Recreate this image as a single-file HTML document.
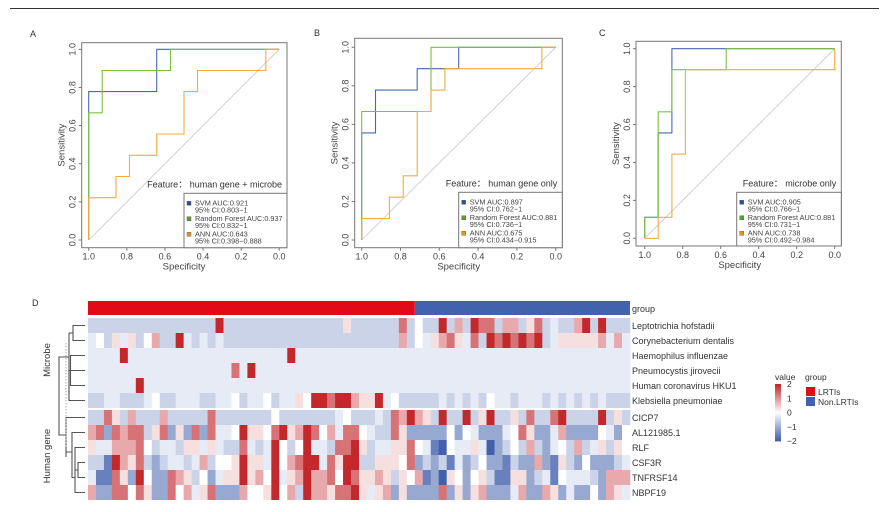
<!DOCTYPE html>
<html><head><meta charset="utf-8"><style>
html,body{margin:0;padding:0;background:#fff}
svg{display:block;font-family:"Liberation Sans","Noto Sans CJK SC",sans-serif}
</style></head><body>
<svg id="fig" width="889" height="512" viewBox="0 0 889 512">
<line x1="10" y1="8.5" x2="879" y2="8.5" stroke="#333" stroke-width="1"/>
<text x="30" y="37" font-size="9" fill="#333">A</text>
<text x="314" y="36" font-size="9" fill="#333">B</text>
<text x="599" y="36" font-size="9" fill="#333">C</text>
<text x="32" y="306" font-size="9" fill="#333">D</text>
<g id="rocs"></g>
<g id="heat"></g>
</svg>
<script>
// ---------- ROC data ----------
const rocTitles = ["human gene + microbe","human gene only","microbe only"];
const seriesNames = ["SVM","Random Forest","ANN"];
const aucLabels = [["0.921","0.937","0.643"],["0.897","0.881","0.675"],["0.905","0.881","0.738"]];
const ciLabels = [["0.803−1","0.832−1","0.398−0.888"],["0.762−1","0.736−1","0.434−0.915"],["0.766−1","0.731−1","0.492−0.984"]];
const tickValues = [1.0,0.8,0.6,0.4,0.2,0.0];
const tickLabels = ["1.0","0.8","0.6","0.4","0.2","0.0"];
const specA_svm=[1,1,0.643,0.643,0], sensA_svm=[0,0.778,0.778,1,1];
const specA_rf=[1,1,0.929,0.929,0.571,0.571,0], sensA_rf=[0,0.667,0.667,0.889,0.889,1,1];
const specA_ann=[1,1,0.857,0.857,0.786,0.786,0.643,0.643,0.5,0.5,0.429,0.429,0.071,0.071,0], sensA_ann=[0,0.222,0.222,0.333,0.333,0.444,0.444,0.556,0.556,0.778,0.778,0.889,0.889,1,1];
const specB_svm=[1,1,0.929,0.929,0.714,0.714,0.5,0.5,0], sensB_svm=[0,0.556,0.556,0.778,0.778,0.889,0.889,1,1];
const specB_rf=[1,1,0.643,0.643,0], sensB_rf=[0,0.667,0.667,1,1];
const specB_ann=[1,1,0.857,0.857,0.786,0.786,0.714,0.714,0.643,0.643,0.571,0.571,0.071,0.071,0], sensB_ann=[0,0.111,0.111,0.222,0.222,0.333,0.333,0.667,0.667,0.778,0.778,0.889,0.889,1,1];
const specC_svm=[1,1,0.929,0.929,0.857,0.857,0], sensC_svm=[0,0.111,0.111,0.556,0.556,1,1];
const specC_rf=[1,1,0.929,0.929,0.857,0.857,0.571,0.571,0], sensC_rf=[0,0.111,0.111,0.667,0.667,0.889,0.889,1,1];
const specC_ann=[1,0.929,0.929,0.857,0.857,0.786,0.786,0,0], sensC_ann=[0,0,0.111,0.111,0.444,0.444,0.889,0.889,1];

// ---------- Heatmap data ----------
const rowNames=["Leptotrichia hofstadii","Corynebacterium dentalis","Haemophilus influenzae","Pneumocystis jirovecii","Human coronavirus HKU1","Klebsiella pneumoniae","CICP7","AL121985.1","RLF","CSF3R","TNFRSF14","NBPF19"];
const groupCounts=[41,27];
const groupNames=["LRTIs","Non.LRTIs"];
const levelValues=[-2,-1.6,-1.1,-0.55,-0.25,0,0.3,0.8,1.3,2];
const heatRows=[
"3333333333333333"+"9"+"333333333333333"+"6"+"333333"+"8"+"3533937"+"398837736834337939333",
"45364635733943434"+"3333333333333333333333"+"73546786483989898934666667474",
"44449444444444444444444449",
"444444444444444444849",
"4444449",
"3344333453344433445344534465"+"99899766945"+"33333434343544344434343434333",
"33863"+"73337"+"33333"+"83333"+"33353"+"33333"+"34533"+"3438"+"79763"+"93393"+"69336"+"38338"+"93333"+"9363",
"78287"+"88368"+"26282"+"84459"+"66589"+"67985"+"74885"+"4338"+"62222"+"25254"+"22245"+"86224"+"72222"+"5425",
"64477"+"78534"+"43664"+"64338"+"43495"+"35944"+"38896"+"3446"+"68541"+"05446"+"40235"+"37324"+"53734"+"6365",
"33197"+"68323"+"44347"+"35569"+"66495"+"78994"+"86993"+"3666"+"58232"+"31423"+"52213"+"22721"+"63252"+"2234",
"41186"+"29522"+"87635"+"24669"+"67594"+"67977"+"85986"+"6763"+"65712"+"06525"+"63116"+"62341"+"54443"+"2777",
"72288"+"58622"+"85746"+"82227"+"55695"+"73977"+"68896"+"4672"+"62222"+"82626"+"72224"+"72276"+"24225"+"2764"
];
const legendTicks=[2,1,0,-1,-2];
const legendTickLabels=["2","1","0","−1","−2"];

const NS="http://www.w3.org/2000/svg";
function mk(tag,attrs,parent){const e=document.createElementNS(NS,tag);for(const k in attrs)e.setAttribute(k,attrs[k]);parent.appendChild(e);return e;}

const colors=["#4868b4","#7cc043","#f6ab3e"];
const swatch=["#2e4f9c","#5c9f2e","#e8921f"];
const panels=[
 {L:81.7,R:287,T:42.7,B:247.7,x1:88.7,x0:279.3,y1:49.3,y0:240,lx:184,ly:193.3,sp:[specA_svm,specA_rf,specA_ann],se:[sensA_svm,sensA_rf,sensA_ann]},
 {L:354.7,R:562.3,T:38.3,B:247.7,x1:361.7,x0:555.7,y1:47.3,y0:240,lx:458.7,ly:192.3,sp:[specB_svm,specB_rf,specB_ann],se:[sensB_svm,sensB_rf,sensB_ann]},
 {L:636,R:841.3,T:41.3,B:246,x1:644.7,x0:834.7,y1:48.7,y0:238.3,lx:736.7,ly:192.3,sp:[specC_svm,specC_rf,specC_ann],se:[sensC_svm,sensC_rf,sensC_ann]}
];
const rocs=document.getElementById('rocs');
const pnames=['a','b','c'];
panels.forEach((p,pi)=>{
  const g=mk('g',{},rocs);
  
  
  const xs=v=>p.x0+(p.x1-p.x0)*v, ys=v=>p.y0+(p.y1-p.y0)*v;
  const fr=mk('rect',{x:p.L,y:p.T,width:p.R-p.L,height:p.B-p.T,fill:'none',stroke:'#777','stroke-width':1},g);
  
  
  const dg=mk('line',{x1:xs(1),y1:ys(0),x2:xs(0),y2:ys(1),stroke:'#c8c8c8','stroke-width':0.8},g);
  
  
  tickValues.forEach((v,i)=>{
    mk('line',{x1:xs(v),y1:p.B,x2:xs(v),y2:p.B+3,stroke:'#777'},g);
    const tx=mk('text',{x:xs(v),y:p.B+12,'font-size':9,'text-anchor':'middle',fill:'#444'},g);
    tx.textContent=tickLabels[i];
    
    
    mk('line',{x1:p.L-3,y1:ys(v),x2:p.L,y2:ys(v),stroke:'#777'},g);
    const ty=mk('text',{x:0,y:0,'font-size':9,'text-anchor':'middle',fill:'#444',transform:`translate(${p.L-6},${ys(v)}) rotate(-90)`},g);
    ty.textContent=tickLabels[i];
    
    
  });
  const xt=mk('text',{x:(p.x0+p.x1)/2,y:p.B+22,'font-size':9.5,'text-anchor':'middle',fill:'#444'},g);
  xt.textContent='Specificity';
  
  
  const yt=mk('text',{x:0,y:0,'font-size':9.5,'text-anchor':'middle',fill:'#444',transform:`translate(${p.L-17},${(p.T+p.B)/2}) rotate(-90)`},g);
  yt.textContent='Sensitivity';
  
  
  for(let s=0;s<3;s++){
    const pts=p.sp[s].map((v,i)=>xs(v).toFixed(1)+','+ys(p.se[s][i]).toFixed(1)).join(' ');
    const pl=mk('polyline',{points:pts,fill:'none',stroke:colors[s],'stroke-width':1.1},g);
    
    
  }
  const ft=mk('text',{x:p.R-5,y:p.ly-6,'font-size':9,'text-anchor':'end',fill:'#333'},g);
  ft.textContent='Feature：  '+rocTitles[pi];
  
  
  const lb=mk('rect',{x:p.lx,y:p.ly,width:p.R-p.lx,height:p.B-p.ly,fill:'#fff',stroke:'#777'},g);
  
  
  for(let s=0;s<3;s++){
    const by=p.ly+12+s*15.5;
    const sw=mk('rect',{x:p.lx+3,y:by-4,width:4,height:4,fill:swatch[s],stroke:'#555','stroke-width':0.4},g);
    
    
    const t1=mk('text',{x:p.lx+11,y:by,'font-size':7.3,fill:'#444'},g);
    t1.textContent=seriesNames[s]+' AUC:'+aucLabels[pi][s];
    
    
    const t2=mk('text',{x:p.lx+11,y:by+7,'font-size':7.3,fill:'#444'},g);
    t2.textContent='95% CI:'+ciLabels[pi][s];
    
    
  }
});

// ---------- Heatmap ----------
const heat=document.getElementById('heat');
const HX=88, HW=542, nCols=groupCounts[0]+groupCounts[1], cw=HW/nCols, rh=15;
const rowY=i=> i<6 ? 318+i*rh : 410+(i-6)*rh;
function col(v){
  const t=Math.min(1,Math.abs(v)/2);
  const c= v>=0 ? [194,40,44] : [66,96,172];
  const m=c.map(k=>Math.round(255+(k-255)*t));
  return `rgb(${m[0]},${m[1]},${m[2]})`;
}
const gcols=["#e30a17","#4262ad"];
let gx=HX;
groupCounts.forEach((n,gi)=>{
  const r=mk('rect',{x:gx,y:301,width:n*cw,height:14,fill:gcols[gi]},heat);
  
  
  gx+=n*cw;
});
const gl=mk('text',{x:632,y:312,'font-size':9,fill:'#333'},heat);
gl.textContent='group';


heatRows.forEach((s,ri)=>{
  const str=s.padEnd(nCols,'4');
  for(let c=0;c<nCols;c++){
    const v=levelValues[+str[c]];
    const r=mk('rect',{x:(HX+c*cw).toFixed(2),y:rowY(ri),width:(cw+0.3).toFixed(2),height:rh,fill:col(v)},heat);
    
    
  }
  const t=mk('text',{x:632,y:rowY(ri)+11,'font-size':9,fill:'#333'},heat);
  t.textContent=rowNames[ri];
  
  
});
const cy=i=>rowY(i)+7.5;
const dpaths=[
 `M85,${cy(0)}H73V${cy(1)}H85`,
 `M73,${(cy(0)+cy(1))/2}H69`,
 `M85,${cy(2)}H70.5V${cy(4)}H85 M85,${cy(3)}H70.5`,
 `M85,${cy(5)}H69V${(cy(2)+cy(4))/2}H70.5`,
 `M69,${(cy(0)+cy(1))/2}V${cy(5)}`,
 `M69,357H59V435H66`,
 `M85,${cy(6)}H66V457`,
 `M85,${cy(9)}H78V${cy(10)}H85`,
 `M85,${cy(8)}H75V${cy(11)}H85 M78,${(cy(9)+cy(10))/2}H75`,
 `M85,${cy(7)}H72V${cy(10)}H75 M72,452H66`
];
dpaths.forEach(d=>{
  const p=mk('path',{d:d,fill:'none',stroke:'#555','stroke-width':1.1},heat);
  
  
});
const dl=mk('line',{x1:66,y1:343,x2:66,y2:448,stroke:'#aaa','stroke-width':1,'stroke-dasharray':'1.5,1.5'},heat);


const lm=mk('text',{x:0,y:0,'font-size':9.5,'text-anchor':'middle',fill:'#333',transform:'translate(50,360) rotate(-90)'},heat);
lm.textContent='Microbe';


const lh=mk('text',{x:0,y:0,'font-size':9.5,'text-anchor':'middle',fill:'#333',transform:'translate(50,456) rotate(-90)'},heat);
lh.textContent='Human gene';


const vt=mk('text',{x:775,y:380,'font-size':8.5,fill:'#333'},heat);
vt.textContent='value';


const barTop=384, barBot=441;
for(let k=0;k<40;k++){
  const v=2-4*k/39;
  const r=mk('rect',{x:775,y:barTop+(barBot-barTop)*k/40,width:6,height:(barBot-barTop)/40+0.4,fill:col(v)},heat);
  
  
}
legendTicks.forEach((v,i)=>{
  const y=barTop+(barBot-barTop)*(2-v)/4;
  const t=mk('text',{x:787,y:y+3,'font-size':8.5,fill:'#333'},heat);
  t.textContent=legendTickLabels[i];
  
  
});
const gt=mk('text',{x:805,y:380,'font-size':8.5,fill:'#333'},heat);
gt.textContent='group';


groupNames.forEach((n,i)=>{
  const r=mk('rect',{x:806,y:387+i*10,width:9,height:9,fill:gcols[i]},heat);
  
  
  const t=mk('text',{x:818,y:395+i*10,'font-size':8.5,fill:'#333'},heat);
  t.textContent=n;
  
  
});
</script>
</body></html>
